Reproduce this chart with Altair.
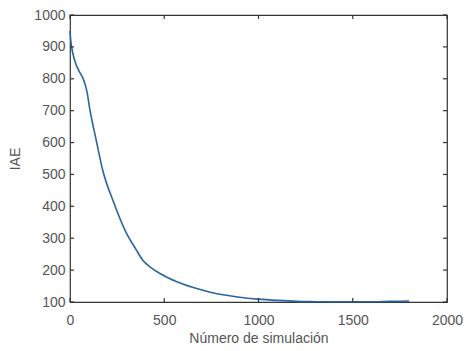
import altair as alt
import pandas as pd

# Data
sim = [0, 5, 15, 30, 50, 70, 90, 105, 140, 175, 230, 300, 350, 385, 430, 475, 520, 560, 650,
       750, 830, 900, 1000, 1100, 1200, 1300, 1400, 1500, 1600, 1700, 1800]
iae = [950, 915, 880, 848, 822, 800, 760, 705, 605, 510, 415, 315, 265, 232, 208, 190, 176, 165, 146,
       130, 121, 115, 109, 105, 102, 101, 100.5, 101, 101, 102, 103]

x_ticks = [0, 500, 1000, 1500, 2000]
y_ticks = [100, 200, 300, 400, 500, 600, 700, 800, 900, 1000]

W, H = 377, 287
FONT = "Liberation Sans"
AX = "#333333"
LAB = "#555555"

df = pd.DataFrame({"sim": sim, "iae": iae})
dfx = pd.DataFrame({"t": x_ticks})
dfy = pd.DataFrame({"t": y_ticks})

xs = alt.Scale(domain=[0, 2000], nice=False)
ys = alt.Scale(domain=[100, 1000], nice=False)

xaxis = alt.Axis(values=x_ticks, ticks=False, grid=False, domain=False, format="d",
                 labelPadding=11, labelFontSize=14, labelFont=FONT, labelColor=LAB,
                 titleFont=FONT, titleFontSize=14, titleFontWeight="normal",
                 titleColor=LAB, titlePadding=4, labelFlush=False, labelOverlap=False)
yaxis = alt.Axis(values=y_ticks, ticks=False, grid=False, domain=False, format="d",
                 labelPadding=5, labelFontSize=14, labelFont=FONT, labelColor=LAB,
                 titleFont=FONT, titleFontSize=14, titleFontWeight="normal",
                 titleColor=LAB, titlePadding=11, labelFlush=False, labelOverlap=False)
XT = "Número de simulación"
YT = "IAE"

line = alt.Chart(df).mark_line(color="#2766a0", strokeWidth=1.6, interpolate="monotone").encode(
    x=alt.X("sim:Q", scale=xs, title=XT, axis=xaxis),
    y=alt.Y("iae:Q", scale=ys, title=YT, axis=yaxis),
)

tick_len = 4
xb = alt.Chart(dfx).mark_rule(color=AX, strokeWidth=1.2).encode(
    x=alt.X("t:Q", scale=xs, title=XT, axis=xaxis), y=alt.value(H), y2=alt.value(H - tick_len))
xt = alt.Chart(dfx).mark_rule(color=AX, strokeWidth=1.2).encode(
    x=alt.X("t:Q", scale=xs, title=XT, axis=xaxis), y=alt.value(0), y2=alt.value(tick_len))
yl = alt.Chart(dfy).mark_rule(color=AX, strokeWidth=1.2).encode(
    y=alt.Y("t:Q", scale=ys, title=YT, axis=yaxis), x=alt.value(0), x2=alt.value(tick_len))
yr = alt.Chart(dfy).mark_rule(color=AX, strokeWidth=1.2).encode(
    y=alt.Y("t:Q", scale=ys, title=YT, axis=yaxis), x=alt.value(W), x2=alt.value(W - tick_len))

chart = alt.layer(line, xb, xt, yl, yr).properties(
    width=W, height=H,
    background="white",
    autosize=alt.AutoSizeParams(type="none"),
    padding={"left": 62, "top": 7, "right": 18, "bottom": 49},
).configure_view(stroke=AX, strokeWidth=1.2)

chart.save("out.html", embed_options={"renderer": "svg", "actions": False})
